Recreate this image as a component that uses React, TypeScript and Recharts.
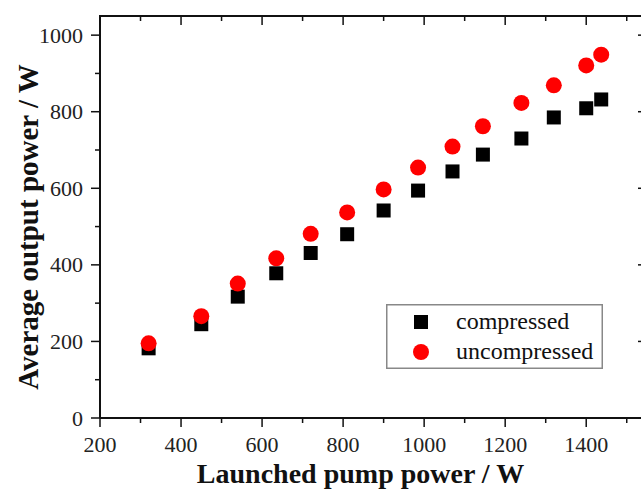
import { ScatterChart, Scatter, XAxis, YAxis, Legend } from 'recharts'

const pumpPower = [320, 450, 540, 635, 720, 810, 900, 985, 1070, 1145, 1240, 1320, 1400, 1437]
const compressed = [182, 245, 317, 378, 431, 480, 542, 594, 644, 688, 730, 785, 809, 832]
const uncompressed = [195, 266, 351, 417, 481, 537, 597, 654, 709, 762, 823, 869, 921, 949]

const xTicks = [200, 300, 400, 500, 600, 700, 800, 900, 1000, 1100, 1200, 1300, 1400, 1500]
const yTicks = [0, 100, 200, 300, 400, 500, 600, 700, 800, 900, 1000]
const xMax = 1550
const yMax = 1050

const compressedData = pumpPower.map((x, i) => ({ x, y: compressed[i] }))
const uncompressedData = pumpPower.map((x, i) => ({ x, y: uncompressed[i] }))

const FONT = '"Liberation Serif", "Times New Roman", serif'
const AXIS = '#111'

// chart layout
const CHART_W = 660
const CHART_H = 492
const TOP = 16
const X_AXIS_H = 74
const Y_AXIS_W = 100
const RIGHT_W = 13
const PLOT_H = CHART_H - TOP - X_AXIS_H
const PLOT_W = CHART_W - Y_AXIS_W - RIGHT_W

// bottom ticks + labels, and the mirrored ticks / border along the top of the frame
const BottomTick = ({ x, y, payload, index }: any) => {
  const major = payload.value % 200 === 0
  const len = major ? 9 : 5
  const top = y - PLOT_H
  return (
    <g>
      <line x1={x} x2={x} y1={y} y2={y + len} stroke={AXIS} strokeWidth={1.5} />
      <line x1={x} x2={x} y1={top} y2={top + len} stroke={AXIS} strokeWidth={1.5} />
      {index === 0 && <line x1={x} x2={x + PLOT_W} y1={top} y2={top} stroke={AXIS} strokeWidth={2} />}
      {major && (
        <text x={x} y={y + 34} textAnchor="middle" fontFamily={FONT} fontSize={22} fill="#222">
          {payload.value}
        </text>
      )}
    </g>
  )
}

const LeftTick = ({ x, y, payload }: any) => {
  const major = payload.value % 200 === 0
  return (
    <g>
      <line x1={x - (major ? 9 : 5)} x2={x} y1={y} y2={y} stroke={AXIS} strokeWidth={1.5} />
      {major && (
        <text x={x - 17} y={y + 7.5} textAnchor="end" fontFamily={FONT} fontSize={22} fill="#222">
          {payload.value}
        </text>
      )}
    </g>
  )
}

const RightTick = ({ x, y, payload }: any) => {
  const major = payload.value % 200 === 0
  return <line x1={x - (major ? 9 : 5)} x2={x} y1={y} y2={y} stroke={AXIS} strokeWidth={1.5} />
}

const SquareDot = ({ cx, cy, fill }: any) => <rect x={cx - 7} y={cy - 7} width={14} height={14} fill={fill} />
const RoundDot = ({ cx, cy, fill }: any) => <circle cx={cx} cy={cy} r={8} fill={fill} />
const NoDot = () => null

const LegendBox = ({ payload }: any) => (
  <svg width={217} height={65} style={{ display: 'block' }}>
    <rect x={0.75} y={0.75} width={215.5} height={63.5} fill="#fff" stroke="#888" strokeWidth={1.5} />
    {(payload || [])
      .filter((p: any) => p.value === 'compressed' || p.value === 'uncompressed')
      .map((p: any, i: number) => {
        const cy = 18 + i * 30
        return (
          <g key={p.value}>
            {p.value === 'compressed' ? (
              <rect x={35 - 7} y={cy - 7} width={14} height={14} fill={p.color} />
            ) : (
              <circle cx={35} cy={cy} r={8} fill={p.color} />
            )}
            <text x={70} y={cy + 7} fontFamily={FONT} fontSize={24} fill="#111">
              {p.value}
            </text>
          </g>
        )
      })}
  </svg>
)

export default function App() {
  return (
    <div style={{ position: 'absolute', left: 0, top: 0, width: 641, height: 492, overflow: 'hidden', background: '#fff' }}>
      <ScatterChart width={CHART_W} height={CHART_H} margin={{ top: TOP, right: 0, left: 0, bottom: 0 }}>
        <XAxis
          xAxisId="bottom"
          dataKey="x"
          type="number"
          domain={[200, xMax]}
          ticks={xTicks}
          interval={0}
          height={X_AXIS_H}
          tickSize={0}
          tickMargin={0}
          tickLine={false}
          axisLine={{ stroke: AXIS, strokeWidth: 2 }}
          tick={<BottomTick />}
          label={{
            content: ({ viewBox }: any) => (
              <text
                x={viewBox.x + viewBox.width / 2 - 13}
                y={viewBox.y + 65}
                textAnchor="middle"
                fontFamily={FONT}
                fontSize={28}
                fontWeight="bold"
                fill="#111"
              >
                Launched pump power / W
              </text>
            ),
          }}
        />
        <YAxis
          yAxisId="left"
          dataKey="y"
          type="number"
          domain={[0, yMax]}
          ticks={yTicks}
          interval={0}
          width={Y_AXIS_W}
          tickSize={0}
          tickMargin={0}
          tickLine={false}
          axisLine={{ stroke: AXIS, strokeWidth: 2 }}
          tick={<LeftTick />}
          label={{
            content: ({ viewBox }: any) => {
              const cx = viewBox.x + 28
              const cy = viewBox.y + viewBox.height / 2 + 10
              return (
                <text
                  x={cx}
                  y={cy}
                  transform={`rotate(-90, ${cx}, ${cy})`}
                  textAnchor="middle"
                  dominantBaseline="central"
                  fontFamily={FONT}
                  fontSize={29}
                  fontWeight="bold"
                  fill="#111"
                >
                  Average output power / W
                </text>
              )
            },
          }}
        />
        <YAxis
          yAxisId="right"
          dataKey="y"
          orientation="right"
          type="number"
          domain={[0, yMax]}
          ticks={yTicks}
          interval={0}
          width={RIGHT_W}
          tickSize={0}
          tickMargin={0}
          tickLine={false}
          axisLine={{ stroke: AXIS, strokeWidth: 2 }}
          tick={<RightTick />}
        />
        <Legend
          layout="vertical"
          align="center"
          verticalAlign="middle"
          content={<LegendBox />}
          wrapperStyle={{ left: 386, top: 304, width: 217, height: 65 }}
        />
        {/* binds the right frame axis so it gets drawn */}
        <Scatter
          name="frame"
          data={compressedData}
          xAxisId="bottom"
          yAxisId="right"
          shape={<NoDot />}
          legendType="none"
          isAnimationActive={false}
        />
        <Scatter
          name="compressed"
          data={compressedData}
          xAxisId="bottom"
          yAxisId="left"
          shape={<SquareDot />}
          legendType="square"
          fill="#000"
          isAnimationActive={false}
        />
        <Scatter
          name="uncompressed"
          data={uncompressedData}
          xAxisId="bottom"
          yAxisId="left"
          shape={<RoundDot />}
          legendType="circle"
          fill="#ff0000"
          isAnimationActive={false}
        />
      </ScatterChart>
      {/* top border of the frame */}
      <div
        style={{
          position: 'absolute',
          left: Y_AXIS_W - 1,
          top: TOP - 1,
          width: PLOT_W + 2,
          height: 2,
          background: AXIS,
          zIndex: 5,
          pointerEvents: 'none',
        }}
      />
    </div>
  )
}
